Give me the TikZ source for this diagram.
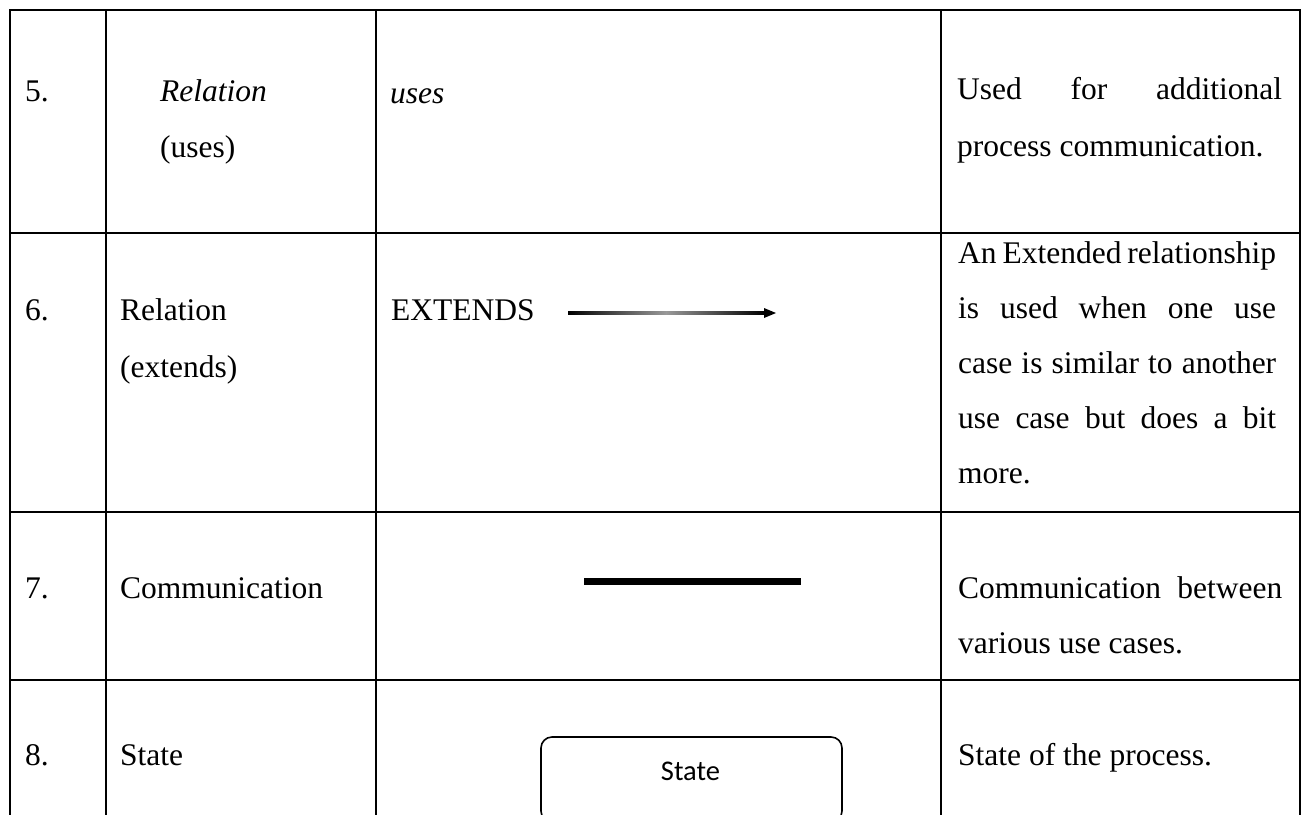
\documentclass[tikz,border=0pt]{standalone}
\usepackage{fontspec}
\setmainfont{Liberation Serif}
\newfontfamily\calibrifont{Carlito}
\begin{document}
\begin{tikzpicture}[x=1pt,y=-1pt,
  grid/.style={line width=2pt, line cap=rect},
  txt/.style={anchor=base west, inner sep=0pt, font=\fontsize{31.5}{38}\selectfont},
  statebox/.style={draw, rounded corners=11pt, line width=1.6pt, minimum width=301pt, minimum height=85pt, inner sep=0pt, outer sep=0pt, anchor=north},
]
\useasboundingbox (0,0) rectangle (1306,814);
\fill[white] (0,0) rectangle (1306,814);
\clip (0,0) rectangle (1306,814);
% table grid
\draw[grid] (9.5,830) -- (9.5,10) -- (1300,10) -- (1300,830);
\foreach \x in {105.5,375.5,940.5} \draw[grid] (\x,10) -- (\x,830);
\foreach \y in {232.5,511.5,680} \draw[grid] (9.5,\y) -- (1300,\y);
% row 5
\node[txt] (n5) at (25,101) {5.};
\node[txt] (r5a) at (160,101) {\itshape Relation};
\node[txt] (r5b) at (160,157) {(uses)};
\node[txt] (s5) at (390,103) {\itshape uses};
\node[txt] (d5a) at (957,99) {\makebox[325pt][s]{Used for additional}};
\node[txt] (d5b) at (957,156) {process communication.};
% row 6
\node[txt] (n6) at (25,320) {6.};
\node[txt] (r6a) at (120,320) {Relation};
\node[txt] (r6b) at (120,377) {(extends)};
\node[txt] (s6) at (391,320) {EXTENDS};
\coordinate (ea) at (568,313);
\coordinate (eb) at (764,313);
\coordinate (et) at (776,313);
\shade[left color=black, right color=black, middle color=black!40] ([yshift=-1.2pt]ea) rectangle ([yshift=1.2pt]eb);
\fill ([yshift=-5pt]eb) -- (et) -- ([yshift=5pt]eb) -- cycle;
\node[txt] (d6a) at (958,263) {\makebox[318pt][s]{An Extended relationship}};
\node[txt] (d6b) at (958,318) {\makebox[318pt][s]{is used when one use}};
\node[txt] (d6c) at (958,373) {\makebox[318pt][s]{case is similar to another}};
\node[txt] (d6d) at (958,428) {\makebox[318pt][s]{use case but does a bit}};
\node[txt] (d6e) at (958,483) {more.};
% row 7
\node[txt] (n7) at (25,598) {7.};
\node[txt] (r7) at (120,598) {Communication};
\coordinate (c1) at (584,581.5);
\coordinate (c2) at (801,581.5);
\draw[line width=7pt] (c1) -- (c2);
\node[txt] (d7a) at (958,598) {\makebox[324pt][s]{Communication between}};
\node[txt] (d7b) at (958,653) {various use cases.};
% row 8
\node[txt] (n8) at (25,765) {8.};
\node[txt] (r8) at (120,765) {State};
\node[statebox] (stbox) at (691.5,737) {};
\node[anchor=base, inner sep=0pt, font=\calibrifont\fontsize{28.5}{34}\selectfont] (stt) at (690.5,780) {State};
\node[txt] (d8) at (958,765) {State of the process.};
\end{tikzpicture}
\end{document}
